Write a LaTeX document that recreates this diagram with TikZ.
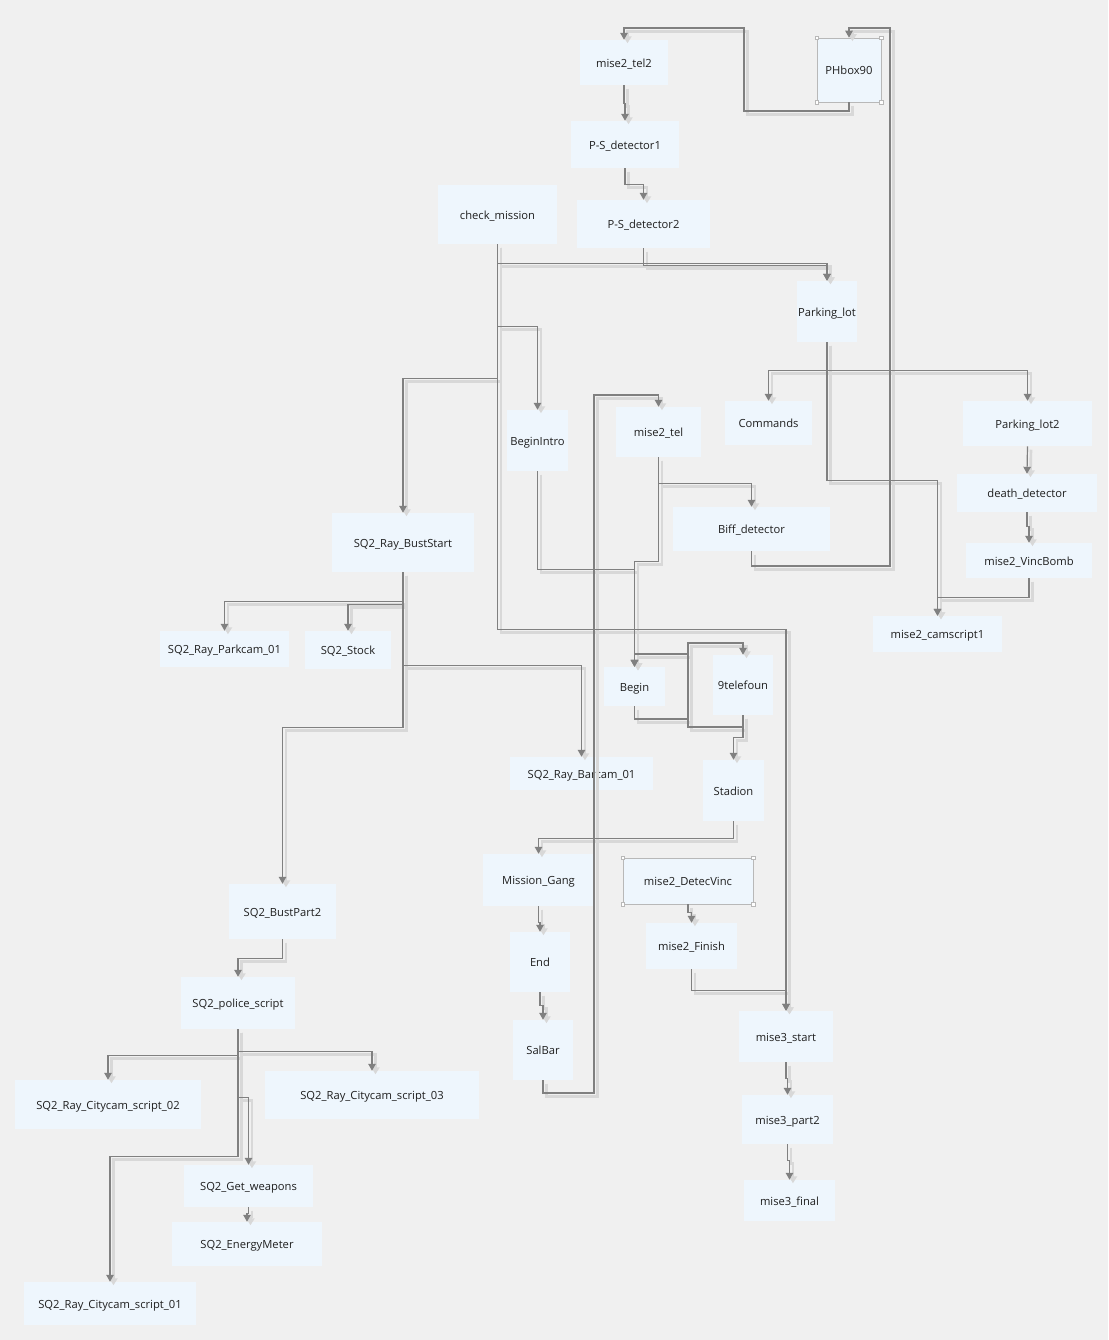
\documentclass[tikz,border=0pt]{standalone}
\usepackage{fontspec}
\setmainfont{Open Sans}
\usetikzlibrary{arrows.meta}
\definecolor{bgcol}{HTML}{F0F0F0}
\definecolor{boxcol}{HTML}{EEF6FD}
\definecolor{linecol}{HTML}{808080}
\definecolor{shadecol}{HTML}{D8D8D8}
\definecolor{framecol}{HTML}{B8B8B8}
\tikzset{
  box/.style={fill=boxcol, draw=none, inner sep=0pt, text height=7.4pt, text depth=0pt,
    font=\fontsize{8.4pt}{10pt}\selectfont, text=black!88},
  selbox/.style={box, draw=framecol, line width=0.5pt},
  edge/.style={draw=linecol, line width=0.9pt, -{Triangle[length=5.2pt,width=5.6pt]}},
  shadowedge/.style={draw=shadecol, line width=2pt, -{Triangle[length=5.2pt,width=6.2pt]}},
  handle/.style={fill=white, draw=framecol, line width=0.4pt, minimum size=2.6pt, inner sep=0pt},
}
% node helper: name, centre x, centre y, width, height, label
\newcommand\bx[7][box]{\node[#1, minimum width=#5*0.75pt, minimum height=#6*0.75pt] (#2) at (#3,#4) {#7};}
\newcommand\handles[1]{%
  \foreach \a in {north west,north east,south west,south east}
    \node[handle] at (#1.\a) {};}
% every connector of the graph
\newcommand\connlist{%
  \cn{(ph.south) |- (744,111) -- (744,28) -| (t2.north)}
  \cn{(t2.south) -- ++(0,18) -| (ps1.north)}
  \cn{(ps1.south) -- ++(0,16) -| (ps2.north)}
  \cn{(ps2.south) -- ++(0,17) -| (pl.north)}
  \cn{(cm.south) -- ++(0,19) -| (pl.north)}
  \cn{(cm.south) -- ++(0,82) -| (bi.north)}
  \cn{(cm.south) -- ++(0,134) -| (bs.north)}
  \cn{(cm.south) -- ++(0,385) -| (m3s.north)}
  \cn{(pl.south) -- ++(0,28) -| (cmd.north)}
  \cn{(pl.south) -- ++(0,28) -| (pl2.north)}
  \cn{(pl.south) -- ++(0,138) -| (mcs.north)}
  \cn{(pl2.south) -- (dd.north)}
  \cn{(dd.south) -- ++(0,14) -| (vb.north)}
  \cn{(vb.south) -- ++(0,19) -| (mcs.north)}
  \cn{(bd.south) |- (890,566) -- (890,28) -| (ph.north)}
  \cn{(mt.south) -- ++(0,26) -| (bd.north)}
  \cn{(mt.south) -- ++(0,104) -| (bg.north)}
  \cn{(bi.south) -- ++(0,98) -| (bg.north)}
  \cn{(sb.south) |- (594,1093) -- (594,395) -| (mt.north)}
  \cn{(bg.south) |- (688,719) -- (688,643) -| (tf.north)}
  \cn{(tf.south) |- (688,727) -- (688,654) -| (bg.north)}
  \cn{(tf.south) -- ++(0,22) -| (st.north)}
  \cn{(st.south) -- ++(0,17) -| (mg.north)}
  \cn{(mg.south) -- ++(0,16) -| (en.north)}
  \cn{(en.south) -- ++(0,13) -| (sb.north)}
  \cn{(dv.south) -- ++(0,8) -| (mf.north)}
  \cn{(mf.south) -- ++(0,21) -| (m3s.north)}
  \cn{(m3s.south) -- ++(0,16) -| (m3p.north)}
  \cn{(m3p.south) -- ++(0,16) -| (m3f.north)}
  \cn{(bs.south) -- ++(0,29) -| (pc.north)}
  \cn{(bs.south) -- ++(0,32) -| (stk.north)}
  \cn{(bs.south) -- ++(0,93) -| (bc.north)}
  \cn{(bs.south) -- ++(0,155) -| (bp2.north)}
  \cn{(bp2.south) -- ++(0,19) -| (ps.north)}
  \cn{(ps.south) -- ++(0,26) -| (c2.north)}
  \cn{(ps.south) -- ++(0,22) -| (c3.north)}
  \cn{(ps.south) -- ++(0,68) -| (gw.north)}
  \cn{(ps.south) -- ++(0,127) -| (c1.north)}
  \cn{(gw.south) -- ++(0,6) -| (em.north)}
}
\begin{document}
\begin{tikzpicture}[x=0.75pt, y=-0.75pt]
\fill[bgcol] (0,0) rectangle (1108,1340);
\useasboundingbox (0,0) rectangle (1108,1340);

% boxes
\bx{t2}{624}{62.5}{88}{45}{mise2\_tel2}
\bx[selbox]{ph}{849}{70}{64}{64}{PHbox90}
\bx{ps1}{625}{144.5}{108}{47}{P-S\_detector1}
\bx{ps2}{643.5}{224}{133}{48}{P-S\_detector2}
\bx{cm}{497.5}{214.5}{119}{59}{check\_mission}
\bx{pl}{827}{311.5}{60}{61}{Parking\_lot}
\bx{bi}{537.5}{440.5}{61}{61}{BeginIntro}
\bx{mt}{658.5}{432}{85}{50}{mise2\_tel}
\bx{cmd}{768.5}{423}{87}{44}{Commands}
\bx{pl2}{1027.5}{423.5}{129}{45}{Parking\_lot2}
\bx{dd}{1027}{493}{140}{38}{death\_detector}
\bx{vb}{1029}{560.5}{126}{35}{mise2\_VincBomb}
\bx{mcs}{937.5}{634}{129}{36}{mise2\_camscript1}
\bx{bd}{751.5}{529}{157}{44}{Biff\_detector}
\bx{bs}{403}{542.5}{142}{59}{SQ2\_Ray\_BustStart}
\bx{pc}{224.5}{649}{129}{36}{SQ2\_Ray\_Parkcam\_01}
\bx{stk}{348}{650}{86}{38}{SQ2\_Stock}
\bx{bg}{634.5}{686.5}{61}{39}{Begin}
\bx{tf}{743}{685}{60}{60}{9telefoun}
\bx{bc}{581.5}{773.5}{143}{33}{SQ2\_Ray\_Barcam\_01}
\bx{st}{733.5}{790.5}{61}{61}{Stadion}
\bx{mg}{538.5}{880}{111}{52}{Mission\_Gang}
\bx[selbox]{dv}{688}{881}{130}{46}{mise2\_DetecVinc}
\bx{mf}{691.5}{946}{91}{46}{mise2\_Finish}
\bx{en}{540}{962}{60}{60}{End}
\bx{sb}{543}{1050}{60}{60}{SalBar}
\bx{m3s}{786}{1036.5}{94}{51}{mise3\_start}
\bx{m3p}{787.5}{1119.5}{91}{49}{mise3\_part2}
\bx{m3f}{789.5}{1200.5}{91}{41}{mise3\_final}
\bx{bp2}{282.5}{911.5}{107}{55}{SQ2\_BustPart2}
\bx{ps}{238}{1003}{114}{52}{SQ2\_police\_script}
\bx{c2}{108}{1104.5}{186}{49}{SQ2\_Ray\_Citycam\_script\_02}
\bx{c3}{372}{1095}{214}{48}{SQ2\_Ray\_Citycam\_script\_03}
\bx{gw}{248.5}{1186}{129}{42}{SQ2\_Get\_weapons}
\bx{em}{247}{1244}{150}{44}{SQ2\_EnergyMeter}
\bx{c1}{110}{1303.5}{172}{43}{SQ2\_Ray\_Citycam\_script\_01}

% connector shadows, then connectors
\begin{scope}[transform canvas={xshift=2.6pt, yshift=-2.6pt}]
  \def\cn#1{\draw[shadowedge] #1;}
  \connlist
\end{scope}
\def\cn#1{\draw[edge] #1;}
\connlist

% selection handles
\handles{ph}
\handles{dv}
\end{tikzpicture}
\end{document}
